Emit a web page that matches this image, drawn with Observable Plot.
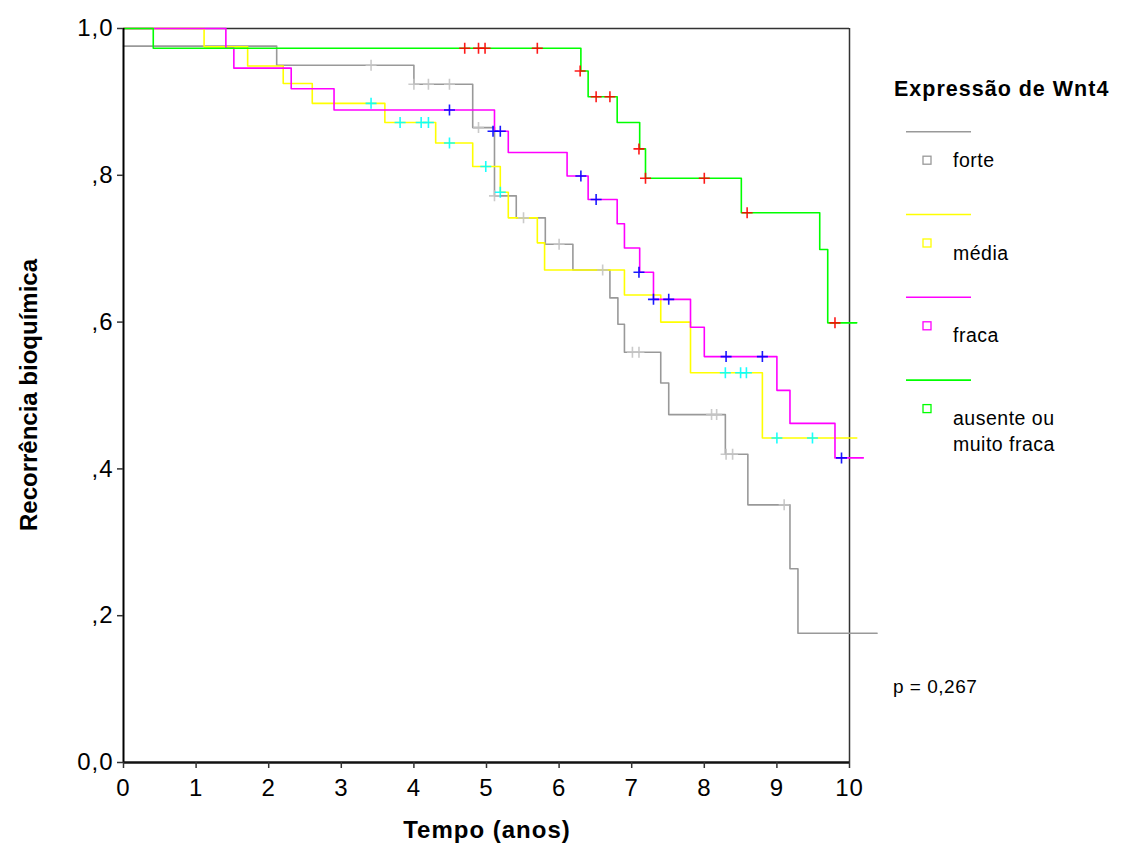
<!DOCTYPE html>
<html>
<head>
<meta charset="utf-8">
<script src="https://cdn.jsdelivr.net/npm/d3@7"></script>
<script src="https://cdn.jsdelivr.net/npm/@observablehq/plot@0.6"></script>
<style>
  html, body { margin: 0; padding: 0; background: #fff; }
  #chart svg { display: block; }
</style>
</head>
<body>
<div id="chart"></div>
<script>
// ---- Data ----
const groups = ["forte", "média", "fraca", "ausente ou muito fraca"];
const legendLabels = [["forte"], ["média"], ["fraca"], ["ausente ou", "muito fraca"]];
const lineColors = ["#999999", "#ffff00", "#ff00ff", "#00ff00"];
const censorColors = ["#c4c4c4", "#00ffff", "#0000ff", "#ff0000"];

const xTicks = [0, 1, 2, 3, 4, 5, 6, 7, 8, 9, 10];
const yTicks = [0, 0.2, 0.4, 0.6, 0.8, 1.0];
const yTickLabels = ["0,0", ",2", ",4", ",6", ",8", "1,0"];

// forte (grey)
const forteTime = [0, 2.11, 4.0, 4.81, 5.11, 5.41, 5.81, 6.19, 6.70, 6.81, 6.90, 7.40, 7.51, 8.29, 8.60, 9.18, 9.29, 10.38];
const forteSurv = [0.976, 0.950, 0.924, 0.865, 0.772, 0.742, 0.706, 0.671, 0.633, 0.597, 0.559, 0.517, 0.474, 0.420, 0.351, 0.264, 0.176, 0.176];
const forteCensTime = [3.41, 4.0, 4.2, 4.49, 4.89, 5.11, 5.51, 6.0, 6.60, 7.01, 7.10, 8.10, 8.17, 8.30, 8.39, 9.10];
const forteCensSurv = [0.950, 0.924, 0.924, 0.924, 0.865, 0.772, 0.742, 0.706, 0.671, 0.559, 0.559, 0.474, 0.474, 0.420, 0.420, 0.351];

// média (yellow)
const mediaTime = [0, 1.11, 1.71, 2.20, 2.60, 3.60, 4.30, 4.81, 5.19, 5.30, 5.70, 5.80, 6.90, 7.40, 7.81, 8.80, 10.1];
const mediaSurv = [1.0, 0.975, 0.949, 0.925, 0.898, 0.872, 0.844, 0.812, 0.777, 0.742, 0.708, 0.671, 0.637, 0.600, 0.531, 0.442, 0.442];
const mediaCensTime = [3.41, 3.81, 4.10, 4.20, 4.49, 4.99, 5.19, 8.29, 8.50, 8.58, 9.0, 9.49];
const mediaCensSurv = [0.898, 0.872, 0.872, 0.872, 0.844, 0.812, 0.777, 0.531, 0.531, 0.531, 0.442, 0.442];

// fraca (magenta)
const fracaTime = [0, 1.41, 1.52, 2.31, 2.90, 5.11, 5.30, 6.11, 6.40, 6.80, 6.90, 7.11, 7.30, 7.81, 8.0, 9.0, 9.18, 9.80, 10.19];
const fracaSurv = [1.0, 0.973, 0.946, 0.918, 0.889, 0.860, 0.831, 0.799, 0.767, 0.734, 0.701, 0.668, 0.631, 0.593, 0.553, 0.507, 0.462, 0.415, 0.415];
const fracaCensTime = [4.49, 5.09, 5.19, 6.30, 6.51, 7.10, 7.30, 7.51, 8.30, 8.80, 9.89];
const fracaCensSurv = [0.889, 0.860, 0.860, 0.799, 0.767, 0.668, 0.631, 0.631, 0.553, 0.553, 0.415];

// ausente ou muito fraca (green)
const ausenteTime = [0, 0.41, 6.30, 6.40, 6.80, 7.11, 7.19, 8.51, 9.59, 9.70, 10.1];
const ausenteSurv = [1.0, 0.973, 0.942, 0.907, 0.872, 0.836, 0.796, 0.749, 0.699, 0.599, 0.599];
const ausenteCensTime = [4.70, 4.89, 4.98, 5.70, 6.29, 6.51, 6.70, 7.10, 7.19, 8.0, 8.59, 9.80];
const ausenteCensSurv = [0.973, 0.973, 0.973, 0.973, 0.942, 0.907, 0.907, 0.836, 0.796, 0.796, 0.749, 0.599];

const pText = "p = 0,267";
const legendTitle = "Expressão de Wnt4";
const xTitle = "Tempo (anos)";
const yTitle = "Recorrência bioquímica";

// ---- Build tables ----
const curveSets = [
  [forteTime, forteSurv, forteCensTime, forteCensSurv],
  [mediaTime, mediaSurv, mediaCensTime, mediaCensSurv],
  [fracaTime, fracaSurv, fracaCensTime, fracaCensSurv],
  [ausenteTime, ausenteSurv, ausenteCensTime, ausenteCensSurv]
];
const lineData = curveSets.map(([t, s], g) => t.map((v, i) => ({t: v, s: s[i], g})));
const censorData = curveSets.map(([, , ct, cs], g) => ct.map((v, i) => ({t: v, s: cs[i], g})));

// custom stroke-only plus symbol
const plusSymbol = {
  draw(ctx, size) {
    const r = Math.sqrt(size / Math.PI);
    ctx.moveTo(-r, 0); ctx.lineTo(r, 0);
    ctx.moveTo(0, -r); ctx.lineTo(0, r);
  }
};

const FONT = "'Liberation Sans', Arial, Helvetica, sans-serif";

const marks = [];
lineData.forEach((d, g) => {
  marks.push(Plot.line(d, {x: "t", y: "s", curve: "step-after", stroke: lineColors[g], strokeWidth: 1.6}));
});
censorData.forEach((d, g) => {
  marks.push(Plot.dot(d, {x: "t", y: "s", symbol: plusSymbol, r: 5.5, stroke: censorColors[g], strokeWidth: 1.6, fill: "none", strokeOpacity: 0.9}));
});

const chart = Plot.plot({
  width: 1121,
  height: 867,
  marginLeft: 123,
  marginRight: 272,
  marginTop: 28,
  marginBottom: 105,
  style: {fontFamily: FONT, background: "#fff", overflow: "visible"},
  x: {domain: [0, 10]},
  y: {domain: [0, 1]},
  marks: [
    Plot.ruleY([1], {stroke: "#333", strokeWidth: 1.5}),
    Plot.ruleX([10], {stroke: "#333", strokeWidth: 1.5}),
    ...marks,
    Plot.ruleX([0], {stroke: "#000", strokeWidth: 2}),
    Plot.ruleY([0], {stroke: "#111", strokeWidth: 2.5}),
    Plot.axisX({ticks: xTicks, tickSize: 6, tickPadding: 10, fontSize: 24, label: null, tickFormat: d => String(d), stroke: "#333", strokeWidth: 1.5, color: "#000"}),
    Plot.axisY({ticks: yTicks, tickSize: 6, tickPadding: 4, fontSize: 24, label: null, tickFormat: d => yTickLabels[yTicks.indexOf(d)], stroke: "#333", strokeWidth: 1.5, color: "#000"})
  ]
});

document.getElementById("chart").appendChild(chart);

// ---- Annotations: legend, axis titles, p-value ----
const svg = d3.select(chart);
svg.selectAll("g[aria-label$='tick label'] text").style("letter-spacing", "1px");

const ann = svg.append("g").attr("font-family", FONT).attr("fill", "#000").attr("text-anchor", "start");

ann.append("text").attr("x", 487).attr("y", 838).attr("text-anchor", "middle")
  .attr("font-size", 24).attr("font-weight", "bold").style("letter-spacing", "1px").text(xTitle);
ann.append("text").attr("transform", "translate(37,395) rotate(-90)").attr("text-anchor", "middle")
  .attr("font-size", 24).attr("font-weight", "bold").text(yTitle);

ann.append("text").attr("x", 894).attr("y", 96).attr("font-size", 21.5).attr("font-weight", "bold")
  .style("letter-spacing", "1px").text(legendTitle);

const legTop = 131.7, legStep = 82.8;
groups.forEach((g, i) => {
  const ly = legTop + i * legStep;
  ann.append("line").attr("x1", 906).attr("x2", 971).attr("y1", ly).attr("y2", ly)
    .attr("stroke", lineColors[i]).attr("stroke-width", 1.6);
  ann.append("rect").attr("x", 923).attr("y", ly + 24.5).attr("width", 8).attr("height", 8)
    .attr("fill", "none").attr("stroke", lineColors[i]).attr("stroke-width", 1.3);
  const base = ly + (i === 0 ? 35.5 : 45);
  legendLabels[i].forEach((lab, j) => {
    ann.append("text").attr("x", 953).attr("y", base + j * 26).attr("font-size", 19.5)
      .style("letter-spacing", "0.5px").text(lab);
  });
});

ann.append("text").attr("x", 893).attr("y", 693).attr("font-size", 19).style("letter-spacing", "0.5px").text(pText);
</script>
</body>
</html>
